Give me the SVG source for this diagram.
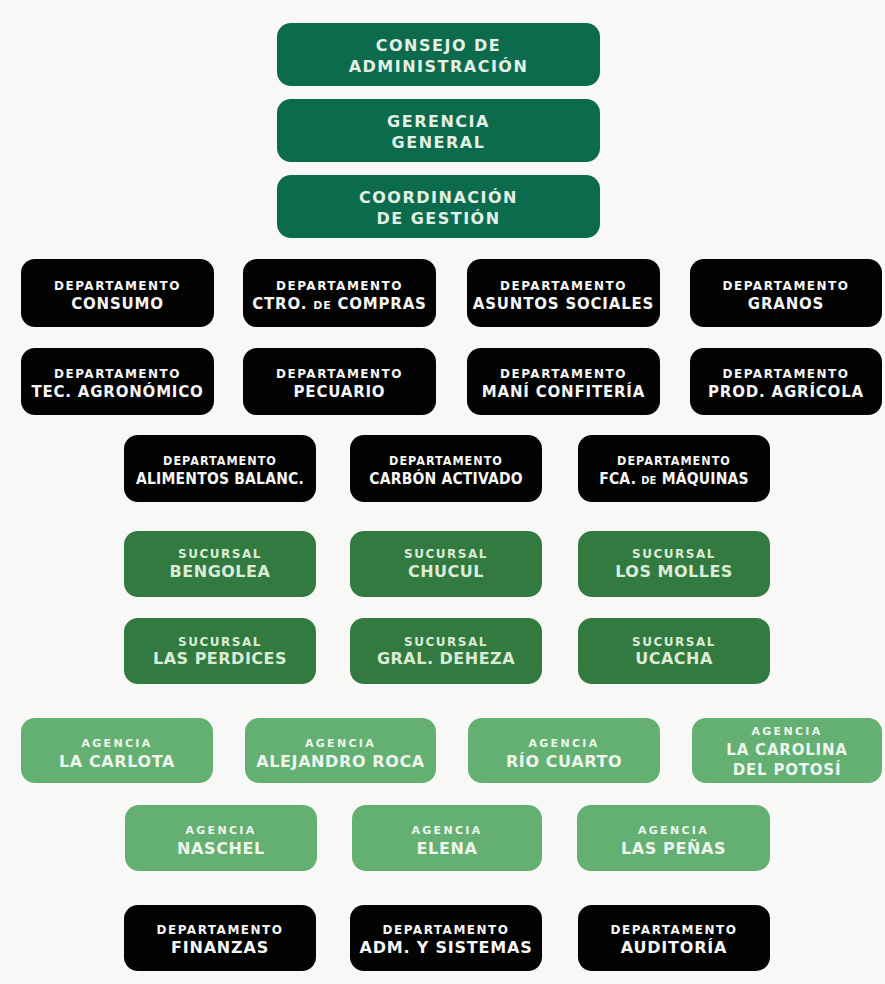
<svg xmlns="http://www.w3.org/2000/svg" width="885" height="984" viewBox="0 0 885 984">
<style>
  .bg{fill:#f8f8f6}
  .dg{fill:#0d6b4d}
  .sg{fill:#327a40}
  .lg{fill:#63b072}
  .bk{fill:#030303}
  text{font-family:'DejaVu Sans','Noto Sans',sans-serif;font-weight:bold;text-anchor:middle}
  .top{font-size:16px;letter-spacing:1.5px;fill:#e3f0e6}
  .ds{font-size:12px;letter-spacing:1.5px;fill:#f6f6f6}
  .db{font-size:15px;letter-spacing:0.8px;fill:#f6f6f6}
  .cs{font-family:'DejaVu Sans Condensed','DejaVu Sans',sans-serif;font-size:12.5px;letter-spacing:1px;fill:#f6f6f6}
  .cb{font-family:'DejaVu Sans Condensed','DejaVu Sans',sans-serif;font-size:15.5px;letter-spacing:0.2px;fill:#f6f6f6}
  .ss{font-size:12px;letter-spacing:1.5px;fill:#dcebd6}
  .sb{font-size:16px;letter-spacing:0.5px;fill:#dcebd6}
  .as{font-size:11px;letter-spacing:2.3px;fill:#eef6ee}
  .ab{font-size:16px;letter-spacing:0.6px;fill:#eef6ee}
  .ac{font-size:15px;letter-spacing:0.8px;fill:#eef6ee}
  .fs{font-size:12px;letter-spacing:1.5px;fill:#f6f6f6}
  .fb{font-size:16px;letter-spacing:0.8px;fill:#f6f6f6}
  .sm{font-size:11px}
</style>
<rect class="bg" x="0" y="0" width="885" height="984"/>
<g id="connectors"/>

<g id="consejo"><rect class="dg" x="277" y="23" width="323" height="63" rx="14"/>
<text class="top" x="438.5" y="50.5">CONSEJO DE</text><text class="top" x="438.5" y="71.5">ADMINISTRACIÓN</text></g>
<g id="gerencia"><rect class="dg" x="277" y="99" width="323" height="63" rx="14"/>
<text class="top" x="438.5" y="126.5">GERENCIA</text><text class="top" x="438.5" y="147.5">GENERAL</text></g>
<g id="coordinacion"><rect class="dg" x="277" y="175" width="323" height="63" rx="14"/>
<text class="top" x="438.5" y="202.5">COORDINACIÓN</text><text class="top" x="438.5" y="223.5">DE GESTIÓN</text></g>

<g id="dep-consumo"><rect class="bk" x="21" y="259" width="193" height="68" rx="14"/>
<text class="ds" x="117.5" y="290">DEPARTAMENTO</text><text class="db" x="117.5" y="309">CONSUMO</text></g>
<g id="dep-compras"><rect class="bk" x="243" y="259" width="193" height="68" rx="14"/>
<text class="ds" x="339.5" y="290">DEPARTAMENTO</text><text class="db" x="339.5" y="309">CTRO. <tspan class="sm">DE</tspan> COMPRAS</text></g>
<g id="dep-sociales"><rect class="bk" x="467" y="259" width="193" height="68" rx="14"/>
<text class="ds" x="563.5" y="290">DEPARTAMENTO</text><text class="db" x="563.5" y="309">ASUNTOS SOCIALES</text></g>
<g id="dep-granos"><rect class="bk" x="690" y="259" width="192" height="68" rx="14"/>
<text class="ds" x="786" y="290">DEPARTAMENTO</text><text class="db" x="786" y="309">GRANOS</text></g>

<g id="dep-agronomico"><rect class="bk" x="21" y="348" width="193" height="67" rx="14"/>
<text class="ds" x="117.5" y="378">DEPARTAMENTO</text><text class="db" x="117.5" y="397">TEC. AGRONÓMICO</text></g>
<g id="dep-pecuario"><rect class="bk" x="243" y="348" width="193" height="67" rx="14"/>
<text class="ds" x="339.5" y="378">DEPARTAMENTO</text><text class="db" x="339.5" y="397">PECUARIO</text></g>
<g id="dep-mani"><rect class="bk" x="467" y="348" width="193" height="67" rx="14"/>
<text class="ds" x="563.5" y="378">DEPARTAMENTO</text><text class="db" x="563.5" y="397">MANÍ CONFITERÍA</text></g>
<g id="dep-agricola"><rect class="bk" x="690" y="348" width="192" height="67" rx="14"/>
<text class="ds" x="786" y="378">DEPARTAMENTO</text><text class="db" x="786" y="397">PROD. AGRÍCOLA</text></g>

<g id="dep-alimentos"><rect class="bk" x="124" y="435" width="192" height="67" rx="14"/>
<text class="cs" x="220" y="465">DEPARTAMENTO</text><text class="cb" x="220" y="484">ALIMENTOS BALANC.</text></g>
<g id="dep-carbon"><rect class="bk" x="350" y="435" width="192" height="67" rx="14"/>
<text class="cs" x="446" y="465">DEPARTAMENTO</text><text class="cb" x="446" y="484">CARBÓN ACTIVADO</text></g>
<g id="dep-maquinas"><rect class="bk" x="578" y="435" width="192" height="67" rx="14"/>
<text class="cs" x="674" y="465">DEPARTAMENTO</text><text class="cb" x="674" y="484">FCA. <tspan class="sm">DE</tspan> MÁQUINAS</text></g>

<g id="suc-bengolea"><rect class="sg" x="124" y="531" width="192" height="66" rx="14"/>
<text class="ss" x="220" y="558">SUCURSAL</text><text class="sb" x="220" y="577">BENGOLEA</text></g>
<g id="suc-chucul"><rect class="sg" x="350" y="531" width="192" height="66" rx="14"/>
<text class="ss" x="446" y="558">SUCURSAL</text><text class="sb" x="446" y="577">CHUCUL</text></g>
<g id="suc-molles"><rect class="sg" x="578" y="531" width="192" height="66" rx="14"/>
<text class="ss" x="674" y="558">SUCURSAL</text><text class="sb" x="674" y="577">LOS MOLLES</text></g>

<g id="suc-perdices"><rect class="sg" x="124" y="618" width="192" height="66" rx="14"/>
<text class="ss" x="220" y="645.5">SUCURSAL</text><text class="sb" x="220" y="664">LAS PERDICES</text></g>
<g id="suc-deheza"><rect class="sg" x="350" y="618" width="192" height="66" rx="14"/>
<text class="ss" x="446" y="645.5">SUCURSAL</text><text class="sb" x="446" y="664">GRAL. DEHEZA</text></g>
<g id="suc-ucacha"><rect class="sg" x="578" y="618" width="192" height="66" rx="14"/>
<text class="ss" x="674" y="645.5">SUCURSAL</text><text class="sb" x="674" y="664">UCACHA</text></g>

<g id="ag-carlota"><rect class="lg" x="21" y="718" width="192" height="65" rx="14"/>
<text class="as" x="117" y="747">AGENCIA</text><text class="ab" x="117" y="767">LA CARLOTA</text></g>
<g id="ag-roca"><rect class="lg" x="245" y="718" width="191" height="65" rx="14"/>
<text class="as" x="340.5" y="747">AGENCIA</text><text class="ab" x="340.5" y="767">ALEJANDRO ROCA</text></g>
<g id="ag-riocuarto"><rect class="lg" x="468" y="718" width="192" height="65" rx="14"/>
<text class="as" x="564" y="747">AGENCIA</text><text class="ab" x="564" y="767">RÍO CUARTO</text></g>
<g id="ag-carolina"><rect class="lg" x="692" y="718" width="190" height="65" rx="14"/>
<text class="as" x="787" y="735">AGENCIA</text><text class="ac" x="787" y="755">LA CAROLINA</text><text class="ac" x="787" y="775">DEL POTOSÍ</text></g>

<g id="ag-naschel"><rect class="lg" x="125" y="805" width="192" height="66" rx="14"/>
<text class="as" x="221" y="833.5">AGENCIA</text><text class="ab" x="221" y="854">NASCHEL</text></g>
<g id="ag-elena"><rect class="lg" x="352" y="805" width="190" height="66" rx="14"/>
<text class="as" x="447" y="833.5">AGENCIA</text><text class="ab" x="447" y="854">ELENA</text></g>
<g id="ag-penas"><rect class="lg" x="577" y="805" width="193" height="66" rx="14"/>
<text class="as" x="673.5" y="833.5">AGENCIA</text><text class="ab" x="673.5" y="854">LAS PEÑAS</text></g>

<g id="dep-finanzas"><rect class="bk" x="124" y="905" width="192" height="66" rx="14"/>
<text class="fs" x="220" y="934">DEPARTAMENTO</text><text class="fb" x="220" y="953">FINANZAS</text></g>
<g id="dep-sistemas"><rect class="bk" x="350" y="905" width="192" height="66" rx="14"/>
<text class="fs" x="446" y="934">DEPARTAMENTO</text><text class="fb" x="446" y="953">ADM. Y SISTEMAS</text></g>
<g id="dep-auditoria"><rect class="bk" x="578" y="905" width="192" height="66" rx="14"/>
<text class="fs" x="674" y="934">DEPARTAMENTO</text><text class="fb" x="674" y="953">AUDITORÍA</text></g>
</svg>
